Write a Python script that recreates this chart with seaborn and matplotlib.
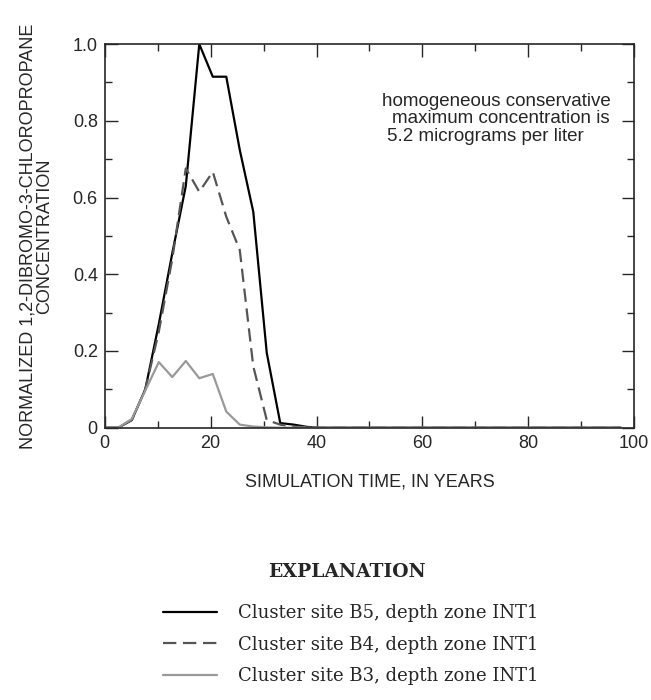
import numpy as np
import pandas as pd
import matplotlib
matplotlib.use("Agg")
import matplotlib.pyplot as plt
from matplotlib.ticker import MultipleLocator
from matplotlib.lines import Line2D
import seaborn as sns

# simulation times, in years
years = [0, 2.55, 5.1, 7.65, 10.2, 12.75, 15.3, 17.85, 20.4, 22.95, 25.5,
         28.05, 30.6, 33.15, 35.7, 38.25, 40.8, 50, 60, 70, 80, 90, 97.5]

b5 = [0, 0, 0.02, 0.10, 0.27, 0.455, 0.63, 1.0, 0.915, 0.915, 0.724,
      0.563, 0.195, 0.012, 0.008, 0.002, 0, 0, 0, 0, 0, 0, 0]
b4 = [0, 0, 0.02, 0.10, 0.25, 0.44, 0.676, 0.615, 0.667, 0.55, 0.463,
      0.16, 0.02, 0.008, 0.003, 0.001, 0, 0, 0, 0, 0, 0, 0]
b3 = [0, 0, 0.023, 0.097, 0.171, 0.132, 0.174, 0.129, 0.140, 0.042, 0.008,
      0.003, 0.001, 0, 0, 0, 0, 0, 0, 0, 0, 0, 0]

labels = ["Cluster site B5, depth zone INT1",
          "Cluster site B4, depth zone INT1",
          "Cluster site B3, depth zone INT1"]
colors = ["#000000", "#555555", "#999999"]
dashes = ["-", (0, (6, 3)), "-"]

sns.set_style("ticks")
plt.rcParams['font.family'] = ['Liberation Sans', 'DejaVu Sans']

fig = plt.figure(figsize=(6.51, 7.0), dpi=100)
ax = fig.add_axes([0.161, 0.389, 0.813, 0.548])

for vals, lab, c, ls in zip([b5, b4, b3], labels, colors, dashes):
    df = pd.DataFrame({"t": years, "c": vals})
    sns.lineplot(data=df, x="t", y="c", ax=ax, color=c, linewidth=1.6,
                 linestyle=ls, label=lab, legend=False)

ax.set_xlim(0, 100)
ax.set_ylim(0, 1.0)
ax.xaxis.set_minor_locator(MultipleLocator(10))
ax.yaxis.set_minor_locator(MultipleLocator(0.1))
ax.set_xticks([0, 20, 40, 60, 80, 100])
ax.set_xticklabels(["0", "20", "40", "60", "80", "100"])
ax.set_yticks([0, 0.2, 0.4, 0.6, 0.8, 1.0])
ax.set_yticklabels(["0", "0.2", "0.4", "0.6", "0.8", "1.0"])
ax.tick_params(which="both", direction="in", top=True, right=True,
               width=1.0, labelsize=13, pad=5)
ax.tick_params(which="major", length=9)
ax.tick_params(which="minor", length=5)
for s in ax.spines.values():
    s.set_linewidth(1.2)

ax.set_xlabel("SIMULATION TIME, IN YEARS", fontsize=13, labelpad=16)
ax.set_ylabel("NORMALIZED 1,2-DIBROMO-3-CHLOROPROPANE\nCONCENTRATION",
              fontsize=13, labelpad=14, linespacing=1.0)

ax.text(95.5, 0.85, "homogeneous conservative", fontsize=13.5,
        ha="right", va="center")
ax.text(95.3, 0.805, "maximum concentration is", fontsize=13.5,
        ha="right", va="center")
ax.text(90.5, 0.76, "5.2 micrograms per liter", fontsize=13.5,
        ha="right", va="center")

handles = [Line2D([], [], color=c, linestyle=ls, linewidth=1.6)
           for c, ls in zip(colors, dashes)]
leg = fig.legend(handles, labels, loc="upper left",
                 bbox_to_anchor=(0.225, 0.16), frameon=False,
                 handlelength=3.0, handletextpad=1.15, labelspacing=0.75,
                 prop={"family": "DejaVu Serif", "size": 13})
fig.text(0.533, 0.183, "EXPLANATION", ha="center", va="center",
         fontsize=13.5, fontweight="bold", family="DejaVu Serif")

fig.savefig("out.png", dpi=100)
